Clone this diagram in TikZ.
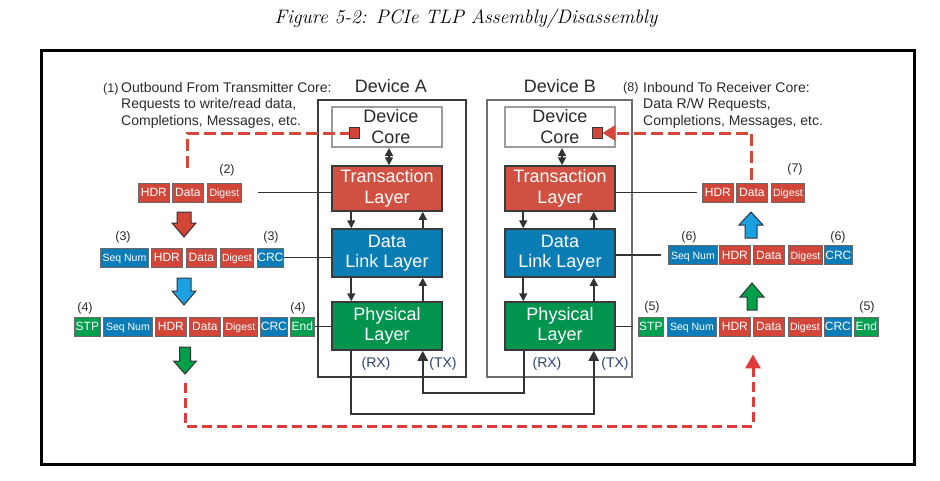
\documentclass[tikz,border=0pt]{standalone}
\usepackage{fontspec}
\newfontfamily\diag{Liberation Sans}
\usetikzlibrary{arrows.meta,calc}
\definecolor{redL}{HTML}{D05141}
\definecolor{blueL}{HTML}{0A7DB5}
\definecolor{greenL}{HTML}{00944F}
\definecolor{redP}{HTML}{D2463A}
\definecolor{blueP}{HTML}{0C7CB8}
\definecolor{greenP}{HTML}{00A050}
\definecolor{redA}{HTML}{D44535}
\definecolor{blueA}{HTML}{1BA1E2}
\definecolor{greenA}{HTML}{00A04A}
\definecolor{dashRed}{HTML}{D6473B}
\definecolor{dashRedB}{HTML}{E03A3A}
\definecolor{txtc}{HTML}{2A2A2A}
\definecolor{rxc}{HTML}{2D3F6E}
\definecolor{coregray}{HTML}{9C9C9C}
\definecolor{devAc}{HTML}{3A3A3A}
\definecolor{devBc}{HTML}{6E6E6E}
\definecolor{wirec}{HTML}{333333}
\definecolor{pktdraw}{HTML}{6A6A6A}
\begin{document}
\begin{tikzpicture}[x=1pt,y=-1pt,
  txt/.style={font=\diag\fontsize{14}{16}\selectfont, text=txtc, inner sep=0pt},
  num/.style={font=\diag\fontsize{12.5}{14}\selectfont, text=txtc, inner sep=0pt},
  rxtx/.style={font=\diag\fontsize{14}{16}\selectfont, text=rxc, inner sep=0pt},
  devlabel/.style={font=\diag\fontsize{18}{20}\selectfont, text=txtc, inner sep=0pt},
  devbox/.style={line width=2pt, minimum height=277pt, inner sep=0pt},
  layer/.style={draw=devAc, line width=1.5pt, text=white, minimum width=110pt, inner sep=0pt, align=center, font=\diag\fontsize{18}{20.5}\selectfont},
  corebox/.style={draw=coregray, line width=2pt, fill=white, minimum width=110pt, minimum height=40pt, inner sep=0pt, align=center, text=txtc, font=\diag\fontsize{18}{21}\selectfont},
  pkt/.style={draw=pktdraw, line width=0.8pt, text=white, minimum height=19pt, inner sep=0pt, anchor=west, text height=8.6pt, text depth=0pt, font=\diag\fontsize{12}{12}\selectfont},
  pkts/.style={pkt, font=\diag\fontsize{10.5}{11}\selectfont},
  sq/.style={draw=devAc, line width=0.8pt, fill=redP, minimum width=10pt, minimum height=11pt, inner sep=0pt},
  conn/.style={draw=wirec, line width=1.8pt},
  larrow/.style={draw=wirec, line width=1.6pt, -{Triangle[length=8pt,width=8pt]}},
  wire/.style={draw=wirec, line width=2.3pt, -{Triangle[length=10pt,width=10pt]}},
  reddash/.style={draw=dashRed, line width=3pt, dash pattern=on 12pt off 5pt},
  reddashB/.style={draw=dashRedB, line width=3pt, dash pattern=on 10pt off 5pt},
  barrow/.style={draw=wirec, line width=1pt, line join=miter}
]
\useasboundingbox (0,0) rectangle (940,480);

% title and frame
\node[font=\itshape\fontsize{19.5}{21}\selectfont, inner sep=0pt] (title) at (466,19) {Figure 5-2: PCIe TLP Assembly/Disassembly};
\draw[line width=3.5pt] (41.5,50.5) rectangle (914.5,464.5);

% device boxes
\node[devbox, draw=devAc, minimum width=148pt] (devA) at (392,238.5) {};
\node[devbox, draw=devBc, minimum width=145pt] (devB) at (559.5,238.5) {};
\node[devlabel] (labA) at (391,86) {Device A};
\node[devlabel] (labB) at (560,86) {Device B};

% Device A layers
\node[corebox] (coreA) at (387,127) {\hspace*{8pt}Device\\\hspace*{8pt}Core};
\node[layer, fill=redL, minimum height=45pt] (tlA) at (387,188.5) {Transaction\\Layer};
\node[layer, fill=blueL, minimum height=48pt] (dllA) at (387,253) {Data\\Link Layer};
\node[layer, fill=greenL, minimum height=48pt] (plA) at (387,326) {Physical\\Layer};
\node[sq] (sqA) at (354,133) {};

% Device B layers
\node[corebox] (coreB) at (560,127) {Device\\Core};
\node[layer, fill=redL, minimum height=45pt] (tlB) at (560,188.5) {Transaction\\Layer};
\node[layer, fill=blueL, minimum height=48pt] (dllB) at (560,253) {Data\\Link Layer};
\node[layer, fill=greenL, minimum height=48pt] (plB) at (560,326) {Physical\\Layer};
\node[sq] (sqB) at (597,133) {};

% inner arrows A
\draw[larrow, {Triangle[length=8pt,width=8pt]}-{Triangle[length=8pt,width=8pt]}] ($(coreA.south)+(2,0)$) -- ($(tlA.north)+(2,0)$);
\draw[larrow] ($(tlA.south west)+(20,0)$) -- ($(dllA.north west)+(20,0)$);
\draw[larrow] ($(dllA.north east)+(-20,0)$) -- ($(tlA.south east)+(-20,0)$);
\draw[larrow] ($(dllA.south west)+(20,0)$) -- ($(plA.north west)+(20,0)$);
\draw[larrow] ($(plA.north east)+(-20,0)$) -- ($(dllA.south east)+(-20,0)$);
% inner arrows B
\draw[larrow, {Triangle[length=8pt,width=8pt]}-{Triangle[length=8pt,width=8pt]}] ($(coreB.south)+(2,0)$) -- ($(tlB.north)+(2,0)$);
\draw[larrow] ($(tlB.south west)+(19,0)$) -- ($(dllB.north west)+(19,0)$);
\draw[larrow] ($(dllB.north east)+(-22,0)$) -- ($(tlB.south east)+(-22,0)$);
\draw[larrow] ($(dllB.south west)+(19,0)$) -- ($(plB.north west)+(19,0)$);
\draw[larrow] ($(plB.north east)+(-22,0)$) -- ($(dllB.south east)+(-22,0)$);

% link wires
\draw[wire] ($(plA.south west)+(20,0)$) -- ++(0,63) -| ($(plB.south east)+(-22,0)$);
\draw[wire] ($(plB.south west)+(20,0)$) -- ++(0,42) -| ($(plA.south east)+(-20,0)$);
\node[rxtx] (rxA) at (376,364) {(RX)};
\node[rxtx] (txA) at (443,364) {(TX)};
\node[rxtx] (rxB) at (547,364) {(RX)};
\node[rxtx] (txB) at (615,364) {(TX)};

% left description
\node[num, anchor=base west] (n1) at (103,92) {(1)};
\node[txt, anchor=base west] (d1a) at (121,92) {Outbound From Transmitter Core:};
\node[txt, anchor=base west] (d1b) at (121,108.5) {Requests to write/read data,};
\node[txt, anchor=base west] (d1c) at (121,125) {Completions, Messages, etc.};
% right description
\node[num, anchor=base west] (n8) at (623,91) {(8)};
\node[txt, anchor=base west] (d8a) at (643,92) {Inbound To Receiver Core:};
\node[txt, anchor=base west] (d8b) at (643,108.5) {Data R/W Requests,};
\node[txt, anchor=base west] (d8c) at (643,125) {Completions, Messages, etc.};

% left row (2)
\node[pkt, fill=redP, minimum width=31pt] (l2h) at (138,192.5) {HDR};
\node[pkt, fill=redP, minimum width=31pt] (l2d) at (172,192.5) {Data};
\node[pkts, fill=redP, minimum width=34pt] (l2g) at (207,192.5) {Digest};
\node[num] (n2) at (227,170) {(2)};

% left row (3)
\node[pkts, fill=blueP, minimum width=48pt] (l3s) at (100,257.5) {Seq Num};
\node[pkt, fill=redP, minimum width=31pt] (l3h) at (151,257.5) {HDR};
\node[pkt, fill=redP, minimum width=30pt] (l3d) at (186,257.5) {Data};
\node[pkts, fill=redP, minimum width=33pt] (l3g) at (220,257.5) {Digest};
\node[pkt, fill=blueP, minimum width=26pt] (l3c) at (257,257.5) {CRC};
\node[num] (n3a) at (123,237) {(3)};
\node[num] (n3b) at (271,237) {(3)};

% left row (4)
\node[pkt, fill=greenP, minimum width=26pt] (l4t) at (74,326.5) {STP};
\node[pkts, fill=blueP, minimum width=49pt] (l4s) at (103,326.5) {Seq Num};
\node[pkt, fill=redP, minimum width=31pt] (l4h) at (155,326.5) {HDR};
\node[pkt, fill=redP, minimum width=31pt] (l4d) at (189,326.5) {Data};
\node[pkts, fill=redP, minimum width=34pt] (l4g) at (223,326.5) {Digest};
\node[pkt, fill=blueP, minimum width=27pt] (l4c) at (260,326.5) {CRC};
\node[pkt, fill=greenP, minimum width=24pt] (l4e) at (290,326.5) {End};
\node[num] (n4a) at (85,308) {(4)};
\node[num] (n4b) at (298,308) {(4)};

% right row (7)
\node[pkt, fill=redP, minimum width=31pt] (r7h) at (702,192.5) {HDR};
\node[pkt, fill=redP, minimum width=31pt] (r7d) at (736,192.5) {Data};
\node[pkts, fill=redP, minimum width=33pt] (r7g) at (771,192.5) {Digest};
\node[num] (n7) at (795,169) {(7)};

% right row (6)
\node[pkts, fill=blueP, minimum width=49pt] (r6s) at (668,255) {Seq Num};
\node[pkt, fill=redP, minimum width=31pt] (r6h) at (719,255) {HDR};
\node[pkt, fill=redP, minimum width=31pt] (r6d) at (753,255) {Data};
\node[pkts, fill=redP, minimum width=34pt] (r6g) at (788,255) {Digest};
\node[pkt, fill=blueP, minimum width=28pt] (r6c) at (824,255) {CRC};
\node[num] (n6a) at (689,237) {(6)};
\node[num] (n6b) at (838,237) {(6)};

% right row (5)
\node[pkt, fill=greenP, minimum width=25pt] (r5t) at (638,326.5) {STP};
\node[pkts, fill=blueP, minimum width=49pt] (r5s) at (667,326.5) {Seq Num};
\node[pkt, fill=redP, minimum width=31pt] (r5h) at (719,326.5) {HDR};
\node[pkt, fill=redP, minimum width=31pt] (r5d) at (753,326.5) {Data};
\node[pkts, fill=redP, minimum width=33pt] (r5g) at (788,326.5) {Digest};
\node[pkt, fill=blueP, minimum width=27pt] (r5c) at (824,326.5) {CRC};
\node[pkt, fill=greenP, minimum width=24pt] (r5e) at (854,326.5) {End};
\node[num] (n5a) at (652,307) {(5)};
\node[num] (n5b) at (867,307) {(5)};

% connectors packets <-> layers
\draw[conn, shorten <=16pt] (l2g.east) -- (l2g.east -| tlA.west);
\draw[conn] (l3c.east) -- (l3c.east -| dllA.west);
\draw[conn] (l4e.east) -- (l4e.east -| plA.west);
\draw[conn, shorten >=5pt] (tlB.east |- r7h.west) -- (r7h.west);
\draw[conn, shorten >=7pt] (dllB.east |- r6s.west) -- (r6s.west);
\draw[conn, shorten >=5pt] (plB.east |- r5t.west) -- (r5t.west);

% block arrows
\draw[barrow, fill=redA] (177,212) -- (191,212) -- (191,223) -- (196,223) -- (184,237) -- (172,223) -- (177,223) -- cycle;
\draw[barrow, fill=blueA] (177,278) -- (191,278) -- (191,291) -- (196,291) -- (184,305) -- (172,291) -- (177,291) -- cycle;
\draw[barrow, fill=greenA] (179.5,347) -- (190.5,347) -- (190.5,361) -- (196.5,361) -- (185,374) -- (173.5,361) -- (179.5,361) -- cycle;
\draw[barrow, fill=blueA] (751,212) -- (763,225) -- (757,225) -- (757,238) -- (745,238) -- (745,225) -- (739,225) -- cycle;
\draw[barrow, fill=greenA] (752,283) -- (764,297) -- (757,297) -- (757,310) -- (747,310) -- (747,297) -- (740,297) -- cycle;
\coordinate (gdtip) at (185,374);

% red dashed paths
\draw[reddash] ([yshift=15pt]l2d.north) |- (sqA.west);
\draw[reddash, -{Triangle[length=13pt,width=15pt]}] ([yshift=3pt]r7d.north) |- (sqB.east);
\draw[reddashB, shorten >=18pt, -{Triangle[length=14pt,width=15pt]}] ([yshift=-9pt]gdtip) -- (185,426) -| (r5d.south west);
\end{tikzpicture}
\end{document}
